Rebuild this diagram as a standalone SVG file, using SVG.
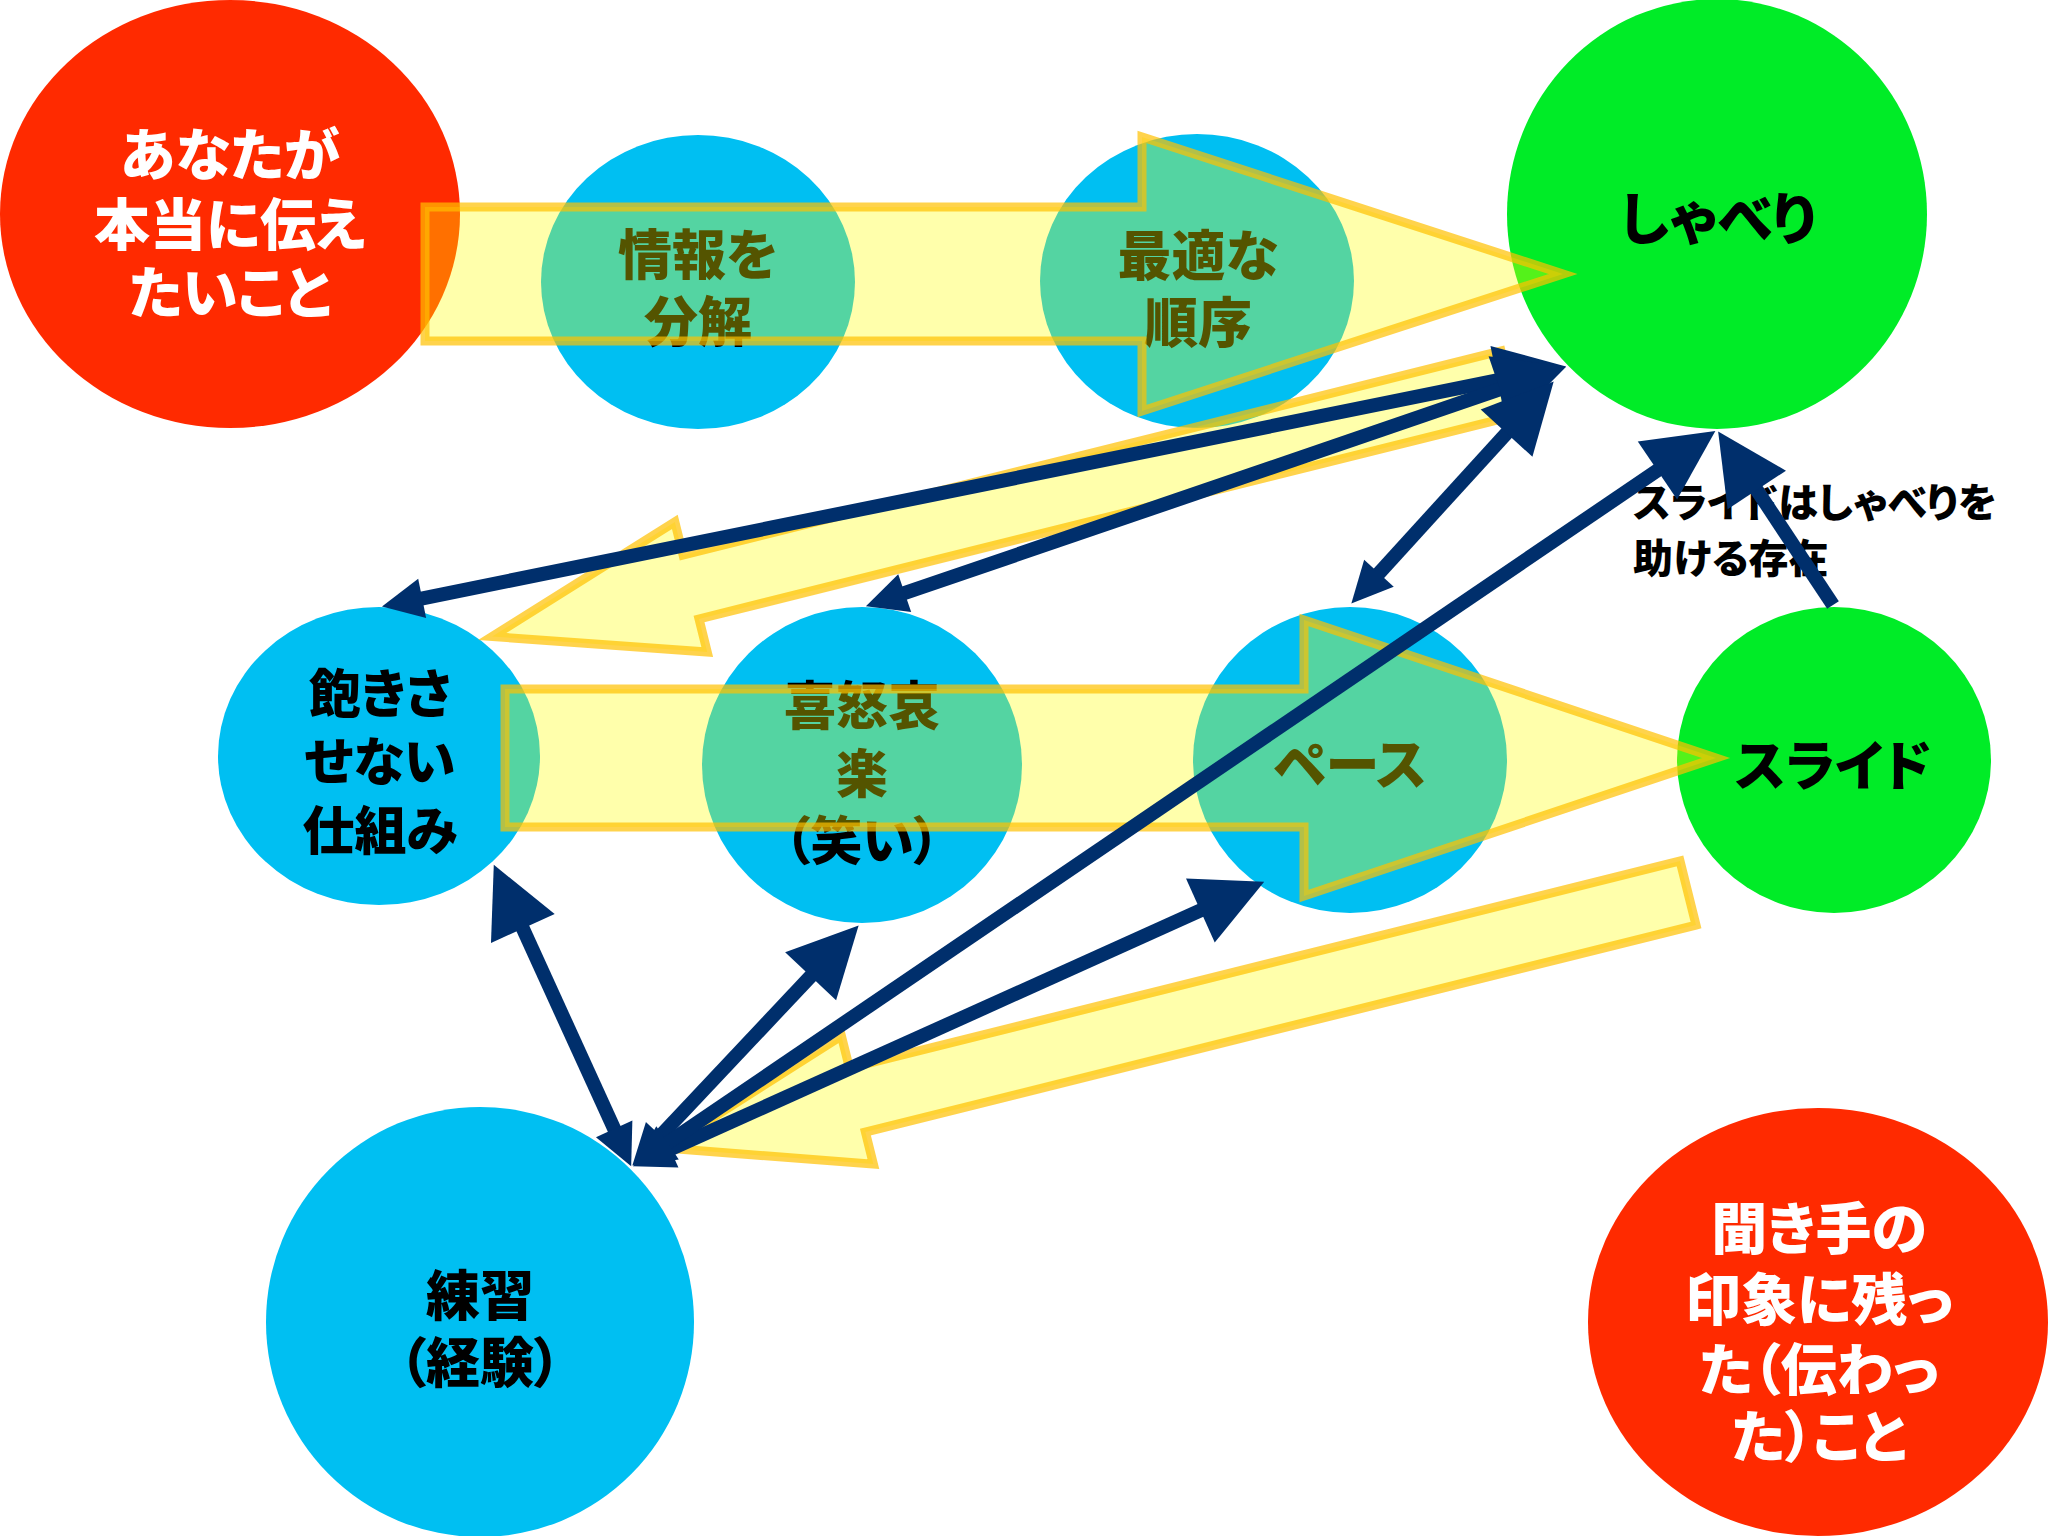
<svg xmlns="http://www.w3.org/2000/svg" width="2048" height="1536" viewBox="0 0 2048 1536">
<style>
.red{fill:#FF2A00}
.blue{fill:#00BFF2}
.green{fill:#00EC27}
.t{font-family:"Noto Sans CJK JP","Noto Sans CJK SC",sans-serif;font-weight:900;text-anchor:middle;dominant-baseline:central;font-feature-settings:"palt"}
.w{fill:#FFFFFF}
.k{fill:#000000}
.ya{fill:#FFFF00;fill-opacity:0.33;stroke:#FFC000;stroke-opacity:0.7;stroke-width:9;stroke-linejoin:miter}
.nv{stroke:#002F6C;stroke-width:14;fill:none}
</style>
<defs>
<marker id="hb" markerUnits="userSpaceOnUse" markerWidth="72" markerHeight="72" refX="2" refY="35" orient="auto-start-reverse" overflow="visible"><path d="M0,0 L70,35 L0,70 z" fill="#002F6C"/></marker>
<marker id="hs" markerUnits="userSpaceOnUse" markerWidth="42" markerHeight="42" refX="2" refY="20" orient="auto-start-reverse" overflow="visible"><path d="M0,0 L41,20 L0,40 z" fill="#002F6C"/></marker>
</defs>
<rect width="2048" height="1536" fill="#FFFFFF"/>
<g id="node-anata">
<ellipse class="red" cx="230" cy="214" rx="230" ry="214"/>
<text class="t w" font-size="56"><tspan x="230" y="150">あなたが</tspan><tspan x="230" y="220">本当に伝え</tspan><tspan x="230" y="288">たいこと</tspan></text>
</g>
<g id="node-bunkai">
<ellipse class="blue" cx="698" cy="282" rx="157" ry="147"/>
<text class="t k" font-size="54"><tspan x="698" y="251">情報を</tspan><tspan x="698" y="318">分解</tspan></text>
</g>
<g id="node-junjo">
<ellipse class="blue" cx="1197" cy="281" rx="157" ry="147"/>
<text class="t k" font-size="54"><tspan x="1198" y="252">最適な</tspan><tspan x="1198" y="319">順序</tspan></text>
</g>
<g id="node-shaberi">
<ellipse class="green" cx="1717" cy="214" rx="210" ry="215"/>
<text class="t k" font-size="56" x="1718" y="214">しゃべり</text>
</g>
<g id="node-akisasenai">
<ellipse class="blue" cx="379" cy="756" rx="161" ry="149"/>
<text class="t k" font-size="52"><tspan x="380" y="690">飽きさ</tspan><tspan x="380" y="758">せない</tspan><tspan x="380" y="827">仕組み</tspan></text>
</g>
<g id="node-kidoairaku">
<ellipse class="blue" cx="862" cy="765" rx="160" ry="158"/>
<text class="t k" font-size="52"><tspan x="862" y="702">喜怒哀</tspan><tspan x="862" y="770">楽</tspan><tspan x="862" y="837">（笑い）</tspan></text>
</g>
<g id="node-pace">
<ellipse class="blue" cx="1350" cy="760" rx="157" ry="153"/>
<text class="t k" font-size="54" x="1350" y="761">ペース</text>
</g>
<g id="node-slide">
<ellipse class="green" cx="1834" cy="760" rx="157" ry="153"/>
<text class="t k" font-size="54" x="1833" y="762">スライド</text>
</g>
<g id="node-renshu">
<ellipse class="blue" cx="480" cy="1322" rx="214" ry="215"/>
<text class="t k" font-size="54"><tspan x="480" y="1292">練習</tspan><tspan x="480" y="1359">（経験）</tspan></text>
</g>
<g id="node-kikite">
<ellipse class="red" cx="1818" cy="1322" rx="230" ry="214"/>
<text class="t w" font-size="56"><tspan x="1819" y="1224">聞き手の</tspan><tspan x="1819" y="1295">印象に残っ</tspan><tspan x="1819" y="1365">た（伝わっ</tspan><tspan x="1819" y="1432">た）こと</tspan></text>
</g>
<g id="flow-arrows">
<polygon class="ya" points="425,207 1142,207 1142,137 1563,274 1142,411 1142,341 425,341"/>
<polygon class="ya" points="505,689 1304,689 1304,620 1716,758 1304,896 1304,827 505,827"/>
<polygon class="ya" transform="translate(1509,383) rotate(166)" points="0,-33 843,-33 843,-67 1048,0 843,67 843,33 0,33"/>
<polygon class="ya" transform="translate(1688,893) rotate(166)" points="0,-33 856,-33 856,-66 1054,0 856,66 856,33 0,33"/>
</g>
<g id="label-slide">
<text class="t k" font-size="40" style="text-anchor:start"><tspan x="1633" y="500">スライドはしゃべりを</tspan><tspan x="1633" y="556">助ける存在</tspan></text>
</g>
<g id="connectors">
<line class="nv" x1="420.2" y1="598.8" x2="1499.4" y2="379.9" marker-start="url(#hs)" marker-end="url(#hb)"/>
<line class="nv" x1="902.8" y1="593.7" x2="1501.8" y2="388.7" marker-start="url(#hs)" marker-end="url(#hb)"/>
<line class="nv" x1="1377.6" y1="574.7" x2="1507.9" y2="431.7" marker-start="url(#hs)" marker-end="url(#hb)"/>
<line class="nv" x1="615" y1="1130.7" x2="522" y2="926.7" marker-start="url(#hs)" marker-end="url(#hb)"/>
<line class="nv" x1="659.1" y1="1137.2" x2="812" y2="974.9" marker-start="url(#hs)" marker-end="url(#hb)"/>
<line class="nv" x1="668.4" y1="1150.2" x2="1202.2" y2="909.7" marker-start="url(#hs)" marker-end="url(#hb)"/>
<line class="nv" x1="665.9" y1="1144" x2="1659.1" y2="469.3" marker-start="url(#hs)" marker-end="url(#hb)"/>
<line class="nv" x1="1833" y1="605" x2="1755.7" y2="488.3" marker-end="url(#hb)"/>
</g>
</svg>
